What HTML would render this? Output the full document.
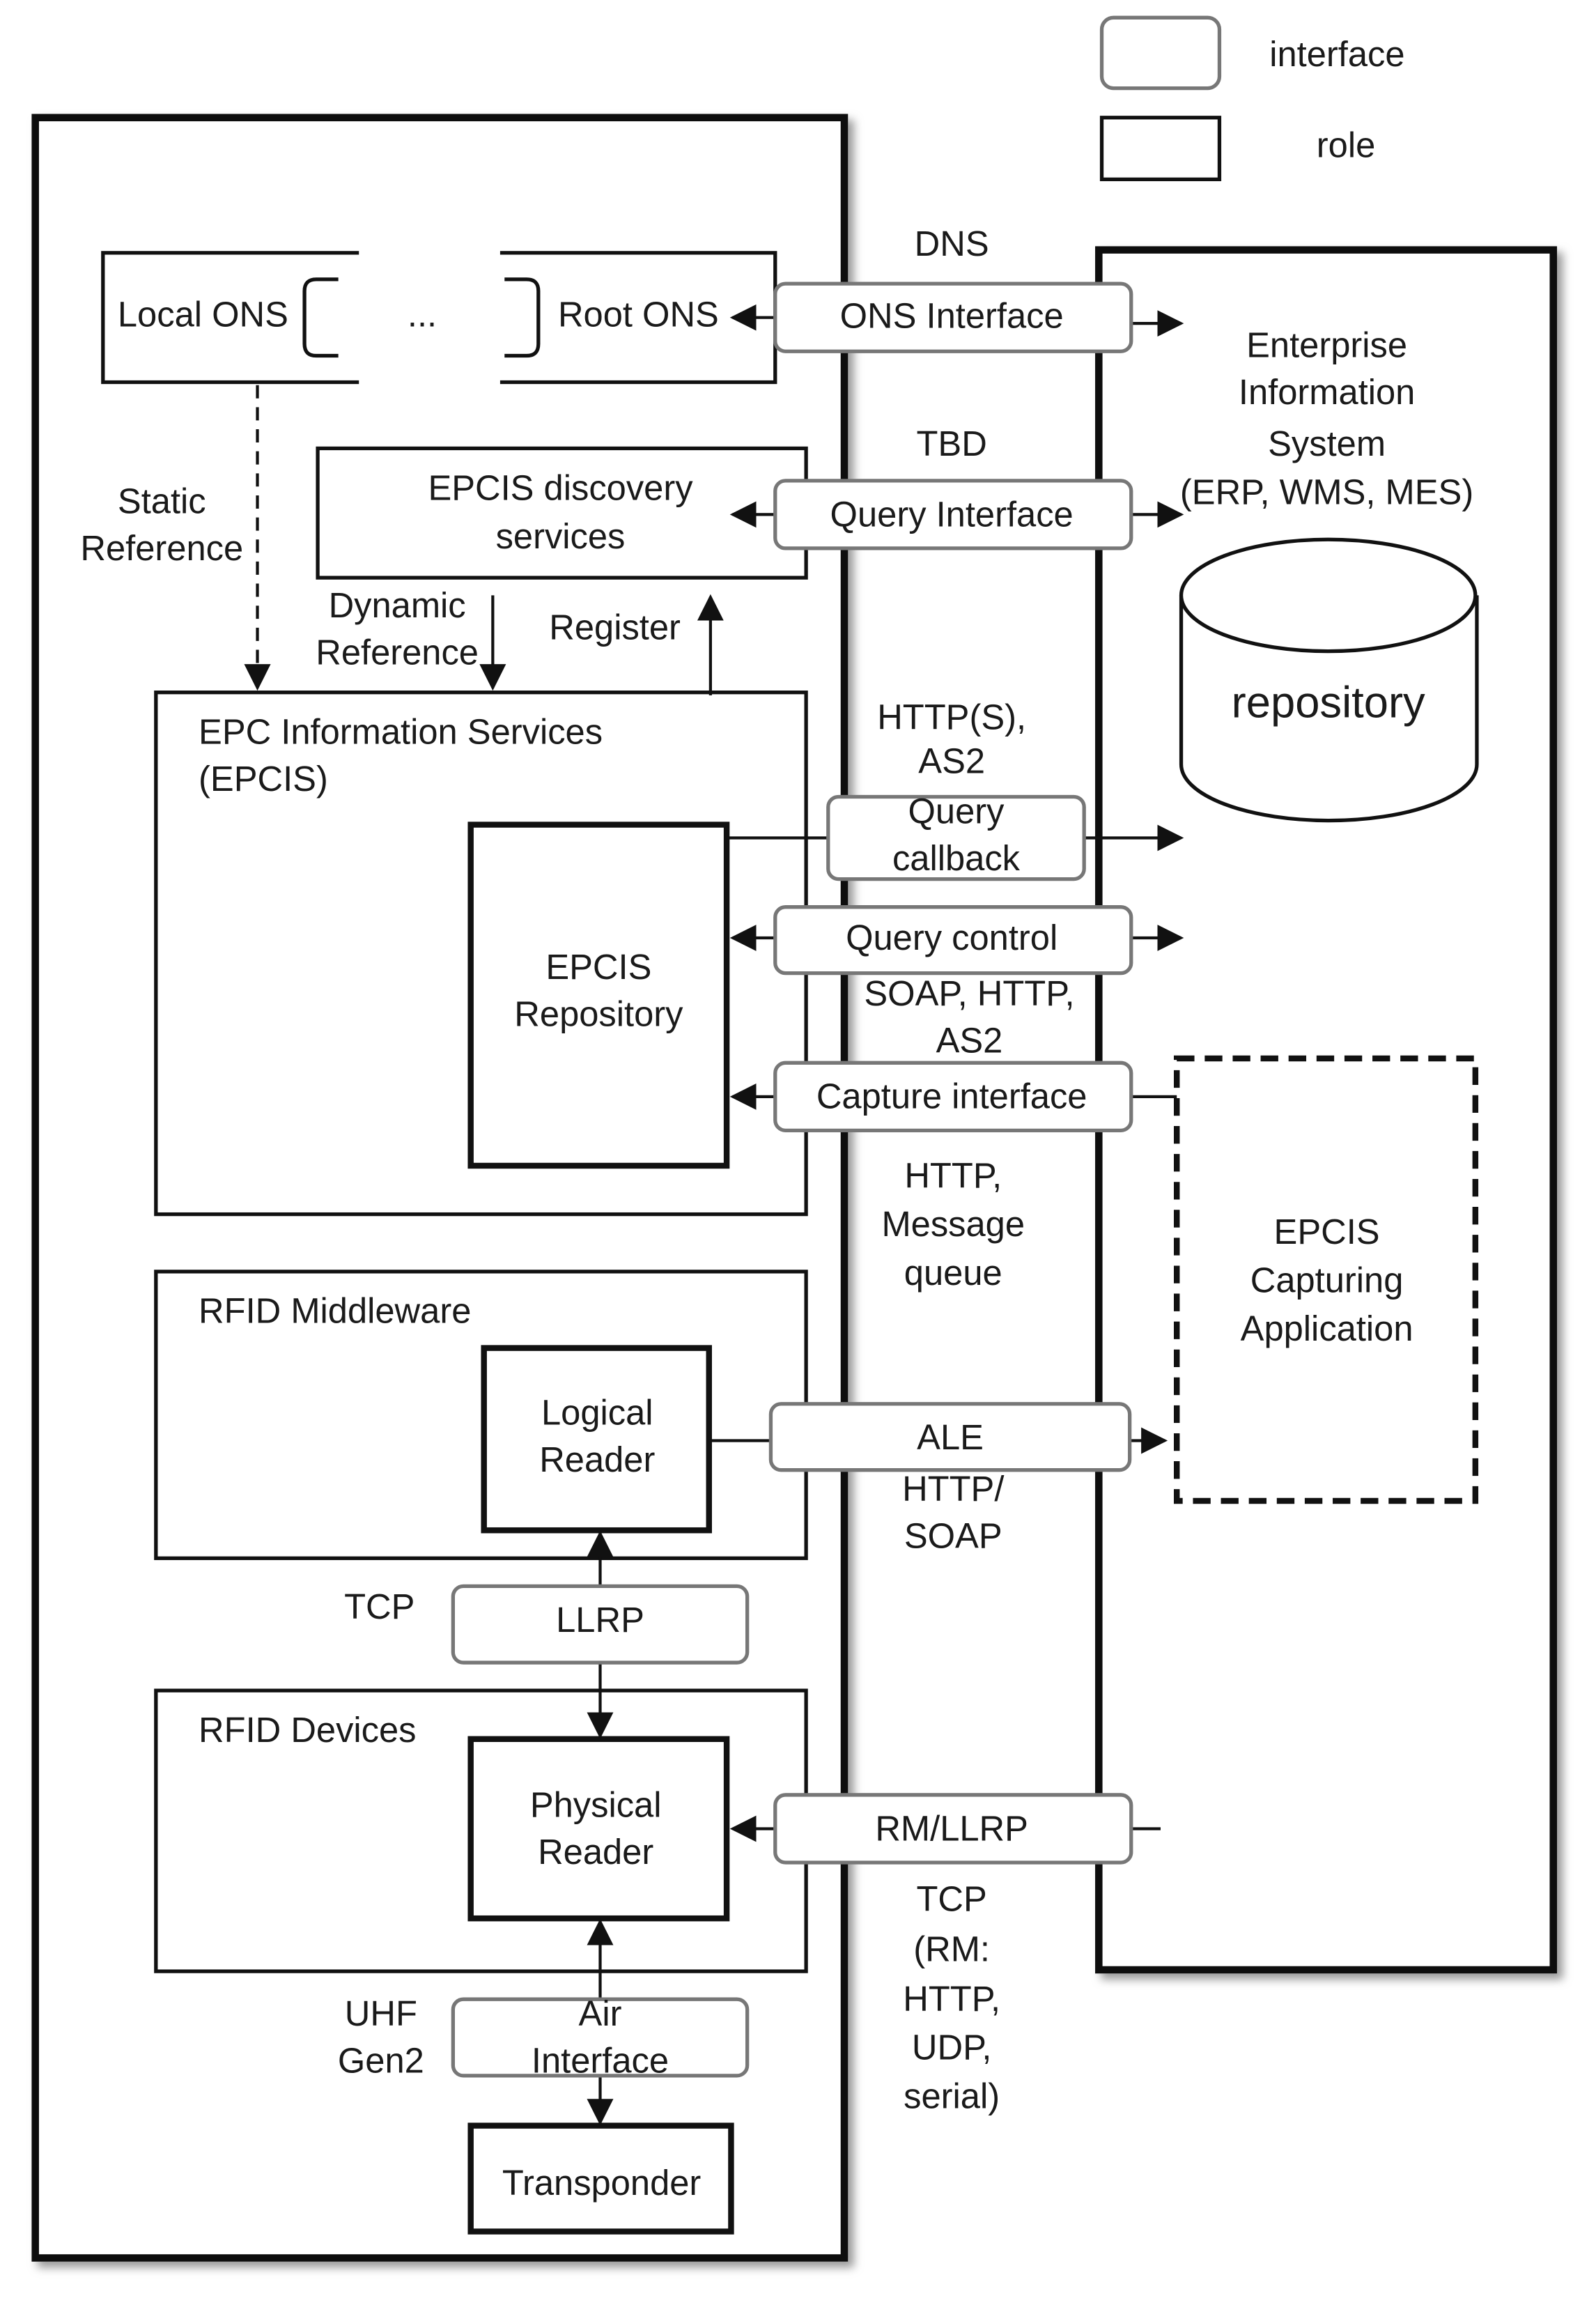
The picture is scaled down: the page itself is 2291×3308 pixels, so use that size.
<!DOCTYPE html>
<html><head><meta charset="utf-8"><style>
html,body{margin:0;padding:0;background:#fff;}
svg{display:block;}
text{font-family:"Liberation Sans",sans-serif;font-size:24px;fill:#1a1a1a;}
.c{text-anchor:middle;}
</style></head><body>
<svg width="2291" height="3308" viewBox="0 0 1085 1568" preserveAspectRatio="none" xmlns="http://www.w3.org/2000/svg">
<defs>
<marker id="a" viewBox="0 0 10 10" refX="9" refY="5" markerWidth="9" markerHeight="9" orient="auto-start-reverse"><path d="M0,0L10,5L0,10z" fill="#111"/></marker>
<filter id="sh" x="-5%" y="-5%" width="115%" height="115%"><feDropShadow dx="4" dy="4" stdDeviation="3" flood-color="#999"/></filter>
</defs>
<g fill="none" stroke="#111">
<rect x="749" y="12" width="80" height="48" rx="8" stroke="#777" stroke-width="2.5"/>
<rect x="749" y="80" width="80" height="42" stroke-width="2.5"/>
<rect x="24" y="80" width="550" height="1456" stroke-width="5" filter="url(#sh)" fill="#fff"/>
<rect x="747" y="170" width="309" height="1170" stroke-width="5" filter="url(#sh)" fill="#fff"/>
<path d="M244,172H70V260H244M340,172H527V260H340" stroke-width="2.5"/>
<path d="M230,190H215Q207,190 207,198V234Q207,242 215,242H230" stroke-width="2.5"/>
<path d="M343,190H358Q366,190 366,198V234Q366,242 358,242H343" stroke-width="2.5"/>
<rect x="216" y="305" width="332" height="88" stroke-width="2.5"/>
<rect x="106" y="471" width="442" height="355" stroke-width="2.5"/>
<rect x="320" y="561" width="174" height="232" stroke-width="4"/>
<rect x="106" y="865" width="442" height="195" stroke-width="2.5"/>
<rect x="329" y="917" width="153" height="124" stroke-width="4"/>
<rect x="106" y="1150" width="442" height="191" stroke-width="2.5"/>
<rect x="320" y="1183" width="174" height="122" stroke-width="4"/>
<rect x="320" y="1446" width="177" height="72" stroke-width="4"/>
<rect x="800" y="720" width="203" height="301" stroke-width="4" stroke-dasharray="12,7"/>
<path d="M803,405V520A100,38 0 0 0 1004,520V405" stroke-width="2.5" fill="#fff"/>
<ellipse cx="903" cy="405" rx="100" ry="38" stroke-width="2.5" fill="#fff"/>
<path d="M175,262V468" stroke-width="2" stroke-dasharray="9,6" marker-end="url(#a)"/>
<path d="M335,405V468" stroke-width="2" marker-end="url(#a)"/>
<path d="M483,473V406" stroke-width="2" marker-end="url(#a)"/>
<path d="M527,216H498" stroke-width="2" marker-end="url(#a)"/>
<path d="M769,220H803" stroke-width="2" marker-end="url(#a)"/>
<path d="M527,350H498" stroke-width="2" marker-end="url(#a)"/>
<path d="M769,350H803" stroke-width="2" marker-end="url(#a)"/>
<path d="M494,570H563" stroke-width="2"/>
<path d="M737,570H803" stroke-width="2" marker-end="url(#a)"/>
<path d="M527,638H498" stroke-width="2" marker-end="url(#a)"/>
<path d="M769,638H803" stroke-width="2" marker-end="url(#a)"/>
<path d="M527,746H498" stroke-width="2" marker-end="url(#a)"/>
<path d="M769,746H800" stroke-width="2"/>
<path d="M482,980H524" stroke-width="2"/>
<path d="M768,980H792" stroke-width="2" marker-end="url(#a)"/>
<path d="M408,1079V1043" stroke-width="2" marker-end="url(#a)"/>
<path d="M408,1131V1181" stroke-width="2" marker-end="url(#a)"/>
<path d="M527,1244H498" stroke-width="2" marker-end="url(#a)"/>
<path d="M769,1244H789" stroke-width="2"/>
<path d="M408,1360V1307" stroke-width="2" marker-end="url(#a)"/>
<path d="M408,1412V1444" stroke-width="2" marker-end="url(#a)"/>
<g stroke="#777" stroke-width="2.5" fill="#fff">
<rect x="527" y="193" width="242" height="46" rx="7"/>
<rect x="527" y="327" width="242" height="46" rx="7"/>
<rect x="563" y="542" width="174" height="56" rx="7"/>
<rect x="527" y="617" width="242" height="45" rx="7"/>
<rect x="527" y="723" width="242" height="46" rx="7"/>
<rect x="524" y="955" width="244" height="45" rx="7"/>
<rect x="308" y="1079" width="200" height="52" rx="7"/>
<rect x="527" y="1221" width="242" height="46" rx="7"/>
<rect x="308" y="1360" width="200" height="52" rx="7"/>
</g>
</g>
<g>
<text x="909" y="45" class="c">interface</text>
<text x="915" y="107" class="c">role</text>
<text x="647" y="174" class="c">DNS</text>
<text x="138" y="222" class="c">Local ONS</text>
<text x="287" y="222" class="c">...</text>
<text x="434" y="222" class="c">Root ONS</text>
<text x="647" y="223" class="c">ONS Interface</text>
<text x="902" y="243" class="c">Enterprise</text>
<text x="902" y="275" class="c">Information</text>
<text x="902" y="310" class="c">System</text>
<text x="902" y="343" class="c">(ERP, WMS,  MES)</text>
<text x="647" y="310" class="c">TBD</text>
<text x="381" y="340" class="c">EPCIS discovery</text>
<text x="381" y="373" class="c">services</text>
<text x="647" y="358" class="c">Query Interface</text>
<text x="110" y="349" class="c">Static</text>
<text x="110" y="381" class="c">Reference</text>
<text x="270" y="420" class="c">Dynamic</text>
<text x="270" y="452" class="c">Reference</text>
<text x="418" y="435" class="c">Register</text>
<text x="135" y="506">EPC Information Services</text>
<text x="135" y="538">(EPCIS)</text>
<text x="407" y="666" class="c">EPCIS</text>
<text x="407" y="698" class="c">Repository</text>
<text x="903" y="488" class="c" style="font-size:30px">repository</text>
<text x="647" y="496" class="c">HTTP(S),</text>
<text x="647" y="526" class="c">AS2</text>
<text x="650" y="560" class="c">Query</text>
<text x="650" y="592" class="c">callback</text>
<text x="647" y="646" class="c">Query control</text>
<text x="659" y="684" class="c">SOAP, HTTP,</text>
<text x="659" y="716" class="c">AS2</text>
<text x="647" y="754" class="c">Capture interface</text>
<text x="648" y="808" class="c">HTTP,</text>
<text x="648" y="841" class="c">Message</text>
<text x="648" y="874" class="c">queue</text>
<text x="902" y="846" class="c">EPCIS</text>
<text x="902" y="879" class="c">Capturing</text>
<text x="902" y="912" class="c">Application</text>
<text x="135" y="900">RFID Middleware</text>
<text x="406" y="969" class="c">Logical</text>
<text x="406" y="1001" class="c">Reader</text>
<text x="646" y="986" class="c">ALE</text>
<text x="648" y="1021" class="c">HTTP/</text>
<text x="648" y="1053" class="c">SOAP</text>
<text x="258" y="1101" class="c">TCP</text>
<text x="408" y="1110" class="c">LLRP</text>
<text x="135" y="1185">RFID  Devices</text>
<text x="405" y="1236" class="c">Physical</text>
<text x="405" y="1268" class="c">Reader</text>
<text x="647" y="1252" class="c">RM/LLRP</text>
<text x="647" y="1300" class="c">TCP</text>
<text x="647" y="1334" class="c">(RM:</text>
<text x="647" y="1368" class="c">HTTP,</text>
<text x="647" y="1401" class="c">UDP,</text>
<text x="647" y="1434" class="c">serial)</text>
<text x="259" y="1378" class="c">UHF</text>
<text x="259" y="1410" class="c">Gen2</text>
<text x="408" y="1378" class="c">Air</text>
<text x="408" y="1410" class="c">Interface</text>
<text x="409" y="1493" class="c">Transponder</text>
</g>
</svg>
</body></html>
